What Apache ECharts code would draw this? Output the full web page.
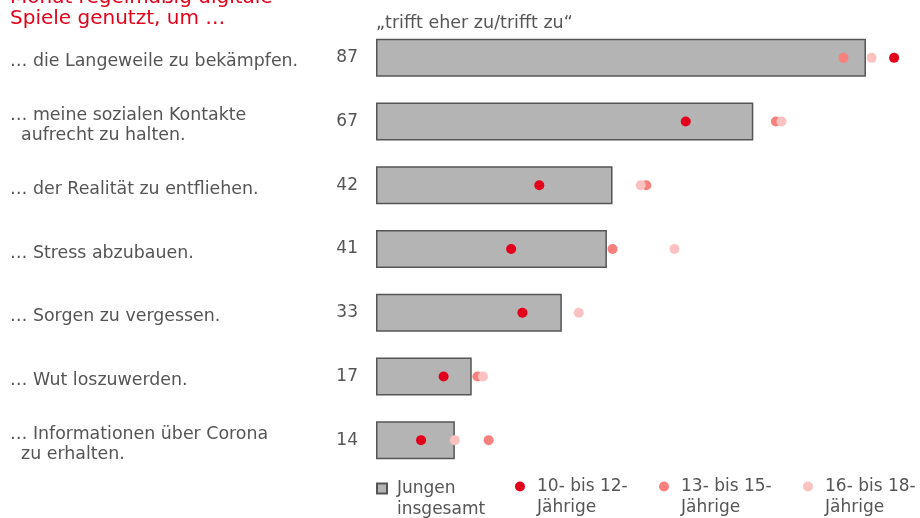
<!DOCTYPE html>
<html><head><meta charset="utf-8">
<script src="https://cdn.jsdelivr.net/npm/echarts@6/dist/echarts.min.js"></script>
<style>html,body{margin:0;padding:0;background:#fff}#c{width:920px;height:518px}</style>
</head><body><div id="c"></div>
<script>
var categories = [
  '… die Langeweile zu bekämpfen.',
  '… meine sozialen Kontakte\n  aufrecht zu halten.',
  '… der Realität zu entfliehen.',
  '… Stress abzubauen.',
  '… Sorgen zu vergessen.',
  '… Wut loszuwerden.',
  '… Informationen über Corona\n  zu erhalten.'
];
var jungenGesamt = [87, 67, 42, 41, 33, 17, 14];
var age10to12 = [92, 55, 29, 24, 26, 12, 8];
var age13to15 = [83, 71, 48, 42, 26, 18, 20];
var age16to18 = [88, 72, 47, 53, 36, 19, 14];
var seriesNames = ['Jungen\ninsgesamt', '10- bis 12-\nJährige', '13- bis 15-\nJährige', '16- bis 18-\nJährige'];

var font = "'DejaVu Sans', Verdana, sans-serif";
var gray = '#555555';
var cRed = '#e2001a', cSalmon = '#f8817e', cPink = '#fcc2c2';

function pts(arr){ return arr.map(function(v,i){ return [v, i]; }); }

function lg(name, left, top, w, icon){
  return {
    data: [{ name: name, icon: icon }], left: left, top: top,
    itemWidth: w, itemHeight: 10, itemGap: 0, symbolKeepAspect: true,
    formatter: function(n){ return '\n' + n; },
    textStyle: { color: gray, fontFamily: font, fontSize: 17, lineHeight: 21 }
  };
}

var chart = echarts.init(document.getElementById('c'));
chart.setOption({
  animation: false,
  graphic: [
    { type: 'text', left: 10, top: -13, style: { text: 'Monat regelmäßig digitale\nSpiele genutzt, um …', fill: cRed, font: '20px ' + font, lineHeight: 21 } },
    { type: 'text', left: 376, top: 14, style: { text: '„trifft eher zu/trifft zu“', fill: gray, font: '17.5px ' + font } }
  ],
  legend: [
    lg(seriesNames[0], 371, 452, 20, 'path://M0,0L10,0L10,10L0,10Z'),
    lg(seriesNames[1], 510, 450, 24, 'circle'),
    lg(seriesNames[2], 654, 450, 24, 'circle'),
    lg(seriesNames[3], 798, 450, 24, 'circle')
  ],
  grid: [
    { left: 376, width: 535, top: 26, height: 446 },
    { left: 376, width: 535, top: 30, height: 446 }
  ],
  xAxis: [
    { type: 'value', min: 0, max: 95, show: false, gridIndex: 0 },
    { type: 'value', min: 0, max: 95, show: false, gridIndex: 1 }
  ],
  yAxis: [
    { type: 'category', data: categories, inverse: true, gridIndex: 0,
      axisLine: { show: false }, axisTick: { show: false }, axisLabel: { show: false } },
    { type: 'category', data: categories, inverse: true, gridIndex: 1,
      axisLine: { show: false }, axisTick: { show: false },
      axisLabel: { align: 'left', margin: 366, color: gray, fontFamily: font, fontSize: 17.4, lineHeight: 20 } }
  ],
  series: [
    { name: seriesNames[0], type: 'bar', data: jungenGesamt, barWidth: 38, z: 1,
      itemStyle: { color: '#b4b4b4', borderColor: '#555555', borderWidth: 1.5 },
      label: { show: true, position: 'left', distance: 18, color: gray, fontFamily: font, fontSize: 17 } },
    { name: seriesNames[2], type: 'scatter', data: pts(age13to15), symbolSize: 10, z: 3, itemStyle: { color: cSalmon, opacity: 1 } },
    { name: seriesNames[3], type: 'scatter', data: pts(age16to18), symbolSize: 10, z: 4, itemStyle: { color: cPink, opacity: 1 } },
    { name: seriesNames[1], type: 'scatter', data: pts(age10to12), symbolSize: 10, z: 5, itemStyle: { color: cRed, opacity: 1 } }
  ]
});
</script></body></html>
